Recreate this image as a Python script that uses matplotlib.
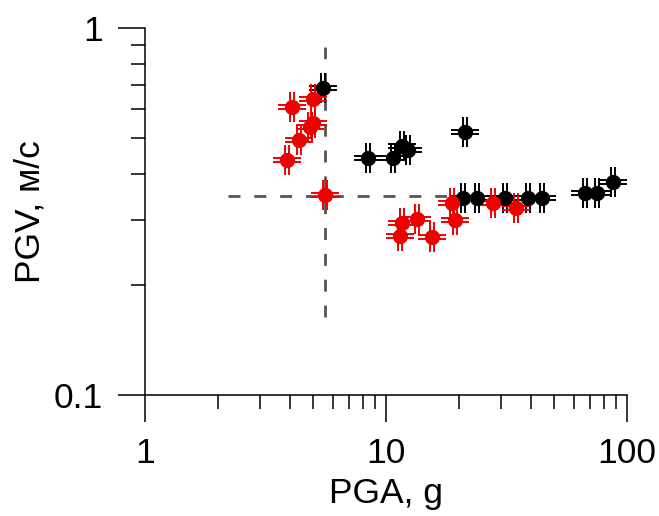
import numpy as np
import matplotlib
matplotlib.use("Agg")
import matplotlib.pyplot as plt
from matplotlib.path import Path

plt.rcParams['font.family'] = ['Liberation Sans', 'DejaVu Sans']
plt.rcParams['lines.scale_dashes'] = False

# black points (PGA, PGV)
black_pga = [5.48, 8.42, 10.7, 11.65, 12.3, 21.3, 20.9, 23.9, 31.2, 38.8, 44.4, 66.9, 75.1, 87.5]
black_pgv = [0.686, 0.442, 0.442, 0.477, 0.465, 0.521, 0.344, 0.344, 0.344, 0.344, 0.344, 0.355, 0.355, 0.380]

# red points
red_pga = [4.98, 4.07, 4.84, 4.98, 4.36, 3.88, 5.58, 11.65, 11.43, 13.45, 15.52, 18.8, 19.3, 27.8, 34.6]
red_pgv = [0.641, 0.609, 0.537, 0.551, 0.495, 0.437, 0.351, 0.294, 0.271, 0.302, 0.269, 0.334, 0.300, 0.334, 0.323]

# dashed guide lines
h_line_x = [2.21, 20.0]
h_line_y = [0.348, 0.348]
v_line_x = [5.58, 5.58]
v_line_y = [0.163, 0.888]

xticks_major = [1, 10, 100]
xtick_labels = ['1', '10', '100']
yticks_major = [0.1, 1]
ytick_labels = ['0.1', '1']

# double-line error cross used as marker
d = 0.13
w = 0.93
verts = [(-d, -1), (-d, 1), (d, -1), (d, 1),
         (-w, -d), (w, -d), (-w, d), (w, d)]
codes = [Path.MOVETO, Path.LINETO] * 4
cross = Path(verts, codes)

fig = plt.figure(figsize=(6.59, 5.16), dpi=100)
ax = fig.add_axes([0.220, 0.2345, 0.7314, 0.7112])
ax.set_xscale('log')
ax.set_yscale('log')
ax.set_xlim(1, 100)
ax.set_ylim(0.1, 1)

dash_kw = dict(color='#555555', lw=2.0, dashes=[8.6, 10.0], zorder=1)
ax.plot(h_line_x, h_line_y, **dash_kw)
ax.plot(v_line_x, v_line_y, **dash_kw)

for xs, ys, col in [(black_pga, black_pgv, 'black'), (red_pga, red_pgv, '#f00000')]:
    ax.plot(xs, ys, ls='none', marker=cross, markersize=21.5, markerfacecolor='none',
            markeredgecolor=col, markeredgewidth=1.4, zorder=2)
    ax.plot(xs, ys, ls='none', marker='o', markersize=11, color=col,
            markeredgewidth=0, zorder=3)

for s in ['top', 'right']:
    ax.spines[s].set_visible(False)
for s in ['left', 'bottom']:
    ax.spines[s].set_linewidth(1.1)

ax.set_xticks(xticks_major)
ax.set_xticklabels(xtick_labels)
ax.set_xticks([v * m for m in (1, 10) for v in range(2, 10)], minor=True)
ax.set_yticks(yticks_major)
ax.set_yticklabels(ytick_labels)
ax.set_yticks([v / 10 for v in range(2, 10)], minor=True)
ax.xaxis.set_minor_formatter(plt.NullFormatter())
ax.yaxis.set_minor_formatter(plt.NullFormatter())

ax.tick_params(which='major', direction='out', length=19.5, width=1.1, labelsize=25.5, pad=11)
ax.tick_params(which='minor', direction='out', length=10, width=1.1)

ax.set_xlabel('PGA, g', fontsize=25.5, labelpad=5)
ax.set_ylabel('PGV, м/с', fontsize=25.5, labelpad=5)

fig.savefig('out.png', dpi=100)
